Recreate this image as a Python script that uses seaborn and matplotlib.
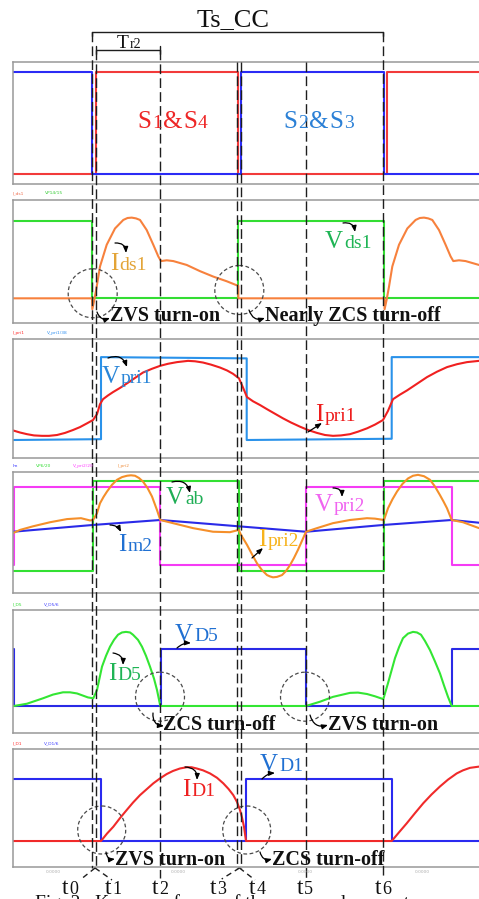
import matplotlib
matplotlib.use("Agg")
import matplotlib.pyplot as plt
import seaborn as sns
from matplotlib.patches import Circle

sns.set_theme(style="white")
plt.rcParams["font.family"] = ["Liberation Serif", "DejaVu Serif"]
SERIF = ["Liberation Serif", "DejaVu Serif"]

# ---------------- data (time axis in a.u., 0..466) ----------------
T_END = 466
mark_names = ["0", "1", "2", "3", "4", "5", "6"]
mark_t = [78.7, 83.0, 147.3, 224.3, 227.7, 293.0, 370.3]

# Panel 1: gate signals (step edges + levels, steps-post)
s14_t = [0, 83, 225.3, 373.5, 466]
s14_v = [0, 1, 0, 1, 1]
s23_t = [0, 79.3, 227.7, 371, 466]
s23_v = [1, 0, 1, 0, 0]

# Panel 2: Vds1 (step) and Ids1
vds1_t = [0, 79, 225.3, 371.3, 466]
vds1_v = [1, 0, 1, 0, 0]
ids1_t = [0, 79, 79.3, 81.3, 83.7, 87, 93.7, 102, 110.3, 114.5, 118.7, 123, 127, 133.7, 140.3,
          145.3, 148, 153.7, 160.3, 173.7, 187, 200.3, 213.7, 225.3, 225.3, 371.3, 371.6,
          373.6, 376, 379.3, 386, 394.3, 402.6, 406.8, 411, 415.2, 419.3, 426, 432.6, 437.6,
          440.3, 446, 452.6, 466]
ids1_v = [0, 0, -0.14, -0.02, 0.15, 0.41, 0.69, 0.90, 1.01, 1.035, 1.04, 1.03, 1.01, 0.88, 0.69,
          0.54, 0.48, 0.49, 0.48, 0.43, 0.35, 0.28, 0.22, 0.16, 0, 0, -0.14,
          -0.02, 0.15, 0.41, 0.69, 0.90, 1.01, 1.035, 1.04, 1.03, 1.01, 0.88, 0.69, 0.54,
          0.48, 0.49, 0.48, 0.43]

# Panel 3: Vpri1 and Ipri1
vpri1_t = [0, 88, 88, 233.7, 233.7, 378.7, 378.7, 466]
vpri1_v = [-1.0, -0.98, 0.99, 0.96, -1.0, -0.97, 0.99, 0.99]
ipri1_t = [0, 7, 14, 21, 29, 36, 44, 52, 60, 67, 74, 80, 84, 87, 90, 95, 100, 107, 114, 122,
           130, 139, 147, 155, 164, 175, 182, 190, 198, 207, 214, 220, 226, 230, 234, 240,
           247, 254, 262, 270, 278, 287, 295, 304, 312, 320, 328, 337, 345, 354, 362, 370,
           375, 380, 387, 394, 404, 414, 424, 434, 444, 454, 466]
ipri1_v = [-0.77, -0.82, -0.86, -0.89, -0.90, -0.90, -0.88, -0.83, -0.76, -0.69, -0.60, -0.52,
           -0.38, -0.14, -0.02, 0.07, 0.15, 0.25, 0.36, 0.49, 0.62, 0.71, 0.78, 0.83, 0.87,
           0.90, 0.89, 0.86, 0.81, 0.74, 0.67, 0.59, 0.48, 0.26, 0.03, -0.07, -0.16, -0.26,
           -0.37, -0.48, -0.58, -0.68, -0.76, -0.83, -0.88, -0.90, -0.89, -0.86, -0.80,
           -0.72, -0.63, -0.52, -0.30, -0.02, 0.09, 0.19, 0.35, 0.51, 0.64, 0.75, 0.82, 0.87,
           0.90]

# Panel 4: Vab, Vpri2 (steps), Im2, Ipri2
vab_t = [0, 79.7, 225.7, 371, 466]
vab_v = [-1, 1, -1, 1, 1]
vpri2_t = [0, 1, 147.3, 293, 438.7, 466]
vpri2_v = [-0.87, 0.87, -0.87, 0.87, -0.87, -0.87]
im2_t = [0, 80, 147.3, 225.7, 293, 370.3, 438.7, 466]
im2_v = [-0.13, 0.02, 0.13, -0.01, -0.13, 0.02, 0.13, 0.07]
ipri2_t = [0, 7, 20, 37, 54, 68, 77, 80, 84, 87, 90.5, 94, 99, 104, 109, 114, 118, 122, 126,
           130, 134.5, 139, 144, 147.3, 160, 180, 200, 217, 225.7, 228, 234, 239, 244, 249,
           254, 257, 260, 264, 269, 273, 277, 281, 285, 289, 293, 304, 320, 337, 354, 362,
           371, 375, 379.5, 384, 389.5, 395, 400, 405, 411, 417, 422, 427, 430.5, 434,
           438.7, 450, 466]
ipri2_v = [-0.16, -0.09, -0.01, 0.08, 0.15, 0.17, 0.12, 0.13, 0.28, 0.50, 0.64, 0.76, 0.91,
           1.02, 1.08, 1.11, 1.12, 1.11, 1.06, 0.98, 0.84, 0.65, 0.35, 0.13, 0.06, -0.05,
           -0.13, -0.14, -0.09, -0.20, -0.42, -0.63, -0.83, -0.98, -1.09, -1.12, -1.14,
           -1.13, -1.09, -1.00, -0.87, -0.71, -0.53, -0.33, -0.13, -0.05, 0.06, 0.13, 0.17,
           0.16, 0.13, 0.39, 0.59, 0.76, 0.93, 1.05, 1.11, 1.13, 1.10, 1.02, 0.87, 0.68,
           0.54, 0.39, 0.13, 0.08, -0.05]

# Panel 5: VD5 (step) and ID5
vd5_t = [0, 1, 147.7, 293, 438.7, 466]
vd5_v = [1, 0, 1, 0, 1, 1]
id5_t = [0, 1, 14, 30, 40, 50, 57, 64, 75, 80.3, 84, 89, 93, 97, 101, 105, 109, 113, 117,
         120, 125, 129, 133, 137, 141, 144, 147.3, 293, 307, 320, 337, 345, 354, 362,
         370.3, 375, 382, 386, 390, 395, 400, 404, 408, 412, 417, 422, 427, 431, 435,
         438.7, 466]
id5_v = [0, 0, 0.04, 0.135, 0.20, 0.24, 0.24, 0.22, 0.15, 0.135, 0.28, 0.69, 0.88, 1.04,
         1.16, 1.25, 1.29, 1.30, 1.29, 1.25, 1.16, 1.04, 0.88, 0.69, 0.48, 0.28, 0, 0, 0.075,
         0.16, 0.23, 0.235, 0.21, 0.17, 0.12, 0.40, 0.84, 1.03, 1.19, 1.27, 1.30, 1.29,
         1.25, 1.14, 0.98, 0.78, 0.57, 0.36, 0.16, 0, 0]

# Panel 6: VD1 (step) and ID1
vd1_t = [0, 88, 233, 378.7, 466]
vd1_v = [1, 0, 1, 0, 0]
id1_t = [0, 88, 94, 100.3, 107, 113.7, 120, 127, 134, 140.3, 147, 153.7, 160, 167, 173.7,
         178.5, 183.7, 190, 197, 204, 210.3, 215.5, 220.3, 224, 227, 229, 231, 233, 378.7,
         386, 393.7, 402, 410.3, 418.5, 427, 435, 443.7, 450, 457, 466]
id1_v = [0, 0, 0.12, 0.23, 0.37, 0.50, 0.62, 0.74, 0.84, 0.93, 1.01, 1.08, 1.13, 1.17,
         1.19, 1.19, 1.17, 1.14, 1.09, 1.02, 0.93, 0.84, 0.74, 0.63, 0.50, 0.38, 0.23, 0, 0,
         0.14, 0.285, 0.45, 0.61, 0.75, 0.88, 0.99, 1.09, 1.14, 1.18, 1.20]

# ---------------- figure ----------------
W, H = 479, 899
fig = plt.figure(figsize=(W / 100, H / 100), dpi=100)
fig.patch.set_facecolor("white")
LEFT = 13


def panel(top, bottom, ylim):
    ax = fig.add_axes([LEFT / W, 1 - bottom / H, (W - LEFT) / W, (bottom - top) / H])
    ax.set_xlim(0, T_END)
    ax.set_ylim(*ylim)
    for k, sp in ax.spines.items():
        sp.set_color("#999999")
        sp.set_linewidth(1.1)
    ax.spines["right"].set_visible(False)
    return ax


def wave(ax, t, v, color, step=False, lw=1.5):
    kw = dict(drawstyle="steps-post") if step else {}
    sns.lineplot(x=t, y=v, ax=ax, color=color, lw=lw, estimator=None, sort=False,
                 errorbar=None, **kw)
    ax.set_xlabel("")
    ax.set_ylabel("")
    ax.set_xticks([])
    ax.set_yticks([])


ax1 = panel(62, 184, (-0.098, 1.095))
wave(ax1, s14_t, s14_v, "#f23a3a", step=True)
wave(ax1, s23_t, s23_v, "#2b2bf5", step=True)

ax2 = panel(200, 323, (-0.318, 1.267))
wave(ax2, vds1_t, vds1_v, "#33dd33", step=True)
wave(ax2, ids1_t, ids1_v, "#f7813d")

ax3 = panel(339, 458, (-1.432, 1.425))
wave(ax3, vpri1_t, vpri1_v, "#2a92ea")
wave(ax3, ipri1_t, ipri1_v, "#f02020")

ax4 = panel(472, 593, (-1.487, 1.193))
wave(ax4, vab_t, vab_v, "#33e033", step=True)
wave(ax4, vpri2_t, vpri2_v, "#f53cf5", step=True)
wave(ax4, im2_t, im2_v, "#2a2ae8")
wave(ax4, ipri2_t, ipri2_v, "#f58f2a")

ax5 = panel(610, 733, (-0.474, 1.684))
wave(ax5, vd5_t, vd5_v, "#2a2ae6", step=True)
wave(ax5, id5_t, id5_v, "#33e633")

ax6 = panel(749, 867, (-0.419, 1.484))
wave(ax6, vd1_t, vd1_v, "#2a2af0", step=True)
wave(ax6, id1_t, id1_v, "#f02a2a")

# ---------------- overlay (1 unit = 1 px) ----------------
ov = fig.add_axes([LEFT / W, 0, (W - LEFT) / W, 1], zorder=10)
ov.set_xlim(0, T_END)
ov.set_ylim(H, 0)
ov.axis("off")
ov.patch.set_alpha(0)

DASH = dict(color="#1e1e1e", lw=1.0, ls=(0, (7, 3)))
line_top = [32, 50, 50, 62, 62, 62, 32]
line_bot = [868, 868, 878, 868, 868, 878, 878]
for t, a, b in zip(mark_t, line_top, line_bot):
    ov.plot([t, t], [a, b], **DASH)

# leader legs to the t-labels
for apex_t, legs in [((mark_t[0] + mark_t[1]) / 2 + 1.2, [(67, 880), (99, 880)]),
                     ((mark_t[3] + mark_t[4]) / 2 + 0.5, [(208.7, 879), (242, 880)])]:
    for lx, ly in legs:
        ov.plot([apex_t, lx], [868, ly], color="#1e1e1e", lw=1.0, ls=(0, (4, 3)))

# brackets
BR = dict(color="#1e1e1e", lw=1.0)
ov.plot([mark_t[0], mark_t[6]], [32, 32], **BR)
ov.plot([mark_t[0], mark_t[0]], [32, 36], **BR)
ov.plot([mark_t[6], mark_t[6]], [32, 36], **BR)
ov.plot([mark_t[1], mark_t[2]], [50, 50], **BR)
ov.plot([mark_t[1], mark_t[1]], [46, 54], **BR)
ov.plot([mark_t[2], mark_t[2]], [46, 54], **BR)

renderer = fig.canvas.get_renderer()


def rich(x, y, parts, color, ha="left", weight="normal"):
    objs = []
    widths = []
    for s, size in parts:
        t = ov.text(0, y, s, fontsize=size, color=color, family=SERIF, va="baseline",
                    ha="left", fontweight=weight)
        objs.append(t)
        widths.append(t.get_window_extent(renderer=renderer).width)
    total = sum(widths) + 1.0 * (len(widths) - 1)
    cx = x - total / 2 if ha == "center" else x
    for t, w in zip(objs, widths):
        t.set_x(cx)
        cx += w + 1.0


def lab(xpx, y, big, small, color, bs=18, ss=14):
    rich(xpx - LEFT, y, [(big, bs), (small, ss)], color)


def arrow(p0, p1, rad=-0.5):
    ov.annotate("", xy=(p1[0] - LEFT, p1[1]), xytext=(p0[0] - LEFT, p0[1]),
                arrowprops=dict(arrowstyle="-|>,head_length=0.5,head_width=0.2",
                                mutation_scale=7, color="black", lw=0.9, shrinkA=0,
                                shrinkB=0, connectionstyle=f"arc3,rad={rad}"))


def circ(xpx, y, r=24.5):
    ov.add_patch(Circle((xpx - LEFT, y), r, fill=False, ec="#4a4a4a", lw=0.9,
                        ls=(0, (3, 2))))


def note(xpx, y, s):
    ov.text(xpx - LEFT, y, s, fontsize=14.5, fontweight="bold", family=SERIF,
            color="#111111", va="baseline", ha="left")


# top titles
rich(233 - LEFT, 26, [("Ts_CC", 19)], "#111111", ha="center")
rich(117 - LEFT, 48, [("T", 14), ("r2", 10)], "#111111")

# panel 1
rich(137 - LEFT, 128, [("S", 18), ("1", 14), ("&", 18), ("S", 18), ("4", 14)], "#ee2626")
rich(283 - LEFT, 128, [("S", 18), ("2", 14), ("&", 18), ("S", 18), ("3", 14)], "#2b80d6")

# panel 2
lab(110, 270, "I", "ds1", "#e3a437")
arrow((115, 243), (126, 253))
lab(325, 248, "V", "ds1", "#1fb455")
arrow((343, 223), (355, 232))
circ(92.7, 293.3)
circ(239.3, 290)
note(110, 321, "ZVS turn-on")
arrow((97, 312), (110, 318), rad=0.5)
note(265, 321, "Nearly ZCS turn-off")
arrow((249, 310), (265, 318), rad=0.5)

# panel 3
lab(102, 383, "V", "pri1", "#2a86d8")
arrow((108, 358), (127, 367))
lab(315, 421, "I", "pri1", "#ee1c1c")
arrow((308, 432), (322, 423), rad=0.0)

# panel 4
lab(166, 504, "V", "ab", "#1fae55")
arrow((172, 482), (190, 493))
lab(118, 551, "I", "m2", "#2070d2")
arrow((110, 525), (121, 532), rad=-0.3)
lab(315, 511, "V", "pri2", "#f064f0")
arrow((333, 488), (342, 497))
lab(258, 546, "I", "pri2", "#f7b31c")
arrow((252, 558), (263, 548), rad=0.0)

# panel 5
lab(175, 641, "V", "D5", "#2070d2")
arrow((177, 648), (191, 643), rad=-0.2)
lab(108, 680, "I", "D5", "#1fb455")
arrow((113, 653), (123, 665), rad=-0.45)
circ(160, 696.7)
circ(305, 696.7)
note(163, 730, "ZCS turn-off")
arrow((153, 713), (164, 726), rad=0.5)
note(328, 730, "ZVS turn-on")
arrow((310, 715), (328, 725), rad=0.5)

# panel 6
lab(260, 771, "V", "D1", "#2070d2")
arrow((262, 779), (275, 773), rad=-0.2)
lab(182, 796, "I", "D1", "#ee2020")
arrow((185, 767), (197, 780), rad=-0.5)
circ(101.7, 830, 24)
circ(246.7, 830, 24)
note(115, 865, "ZVS turn-on")
arrow((106, 852), (115, 859), rad=0.5)
note(272, 865, "ZCS turn-off")
arrow((260, 852), (272, 859), rad=0.5)

# t labels
label_x = [70, 113, 160, 218, 257, 305, 383]
for name, xpx in zip(mark_names, label_x):
    rich(xpx - LEFT, 894, [("t", 17), (name, 13)], "#111111", ha="center")

# tiny simulator legends above panels
tiny = [
    (193, [("I_ds1", "#f07050", 13), ("VP14/15", "#33cc33", 45)]),
    (333, [("I_pri1", "#ff3030", 13), ("V_pri1/38", "#3090f0", 47)]),
    (466, [("Im", "#3030ff", 13), ("VP6/20", "#33dd33", 36), ("V_pri2/20", "#ff40ff", 73),
           ("I_pri2", "#f09040", 118)]),
    (604, [("I_D5", "#33dd33", 13), ("V_D5/6", "#4040ff", 44)]),
    (743, [("I_D1", "#ff3030", 13), ("V_D1/6", "#4040ff", 44)]),
]
for y, items in tiny:
    for s, c, xpx in items:
        ov.text(xpx - LEFT, y, s, fontsize=3.2, color=c, family="DejaVu Sans",
                va="center", ha="left")
for xpx in [53, 178, 305, 422]:
    ov.text(xpx - LEFT, 872, "0.0000", fontsize=3.2, color="#b0b0b0",
            family="DejaVu Sans", va="center", ha="center")

# caption (cut by the bottom edge, as in the reference)
ov.text(35 - LEFT, 908, "Fig. 2.  Key waveforms of the proposed converter", fontsize=14,
        family=SERIF, color="#111111", va="baseline", ha="left")

fig.savefig("out.png", dpi=100)
